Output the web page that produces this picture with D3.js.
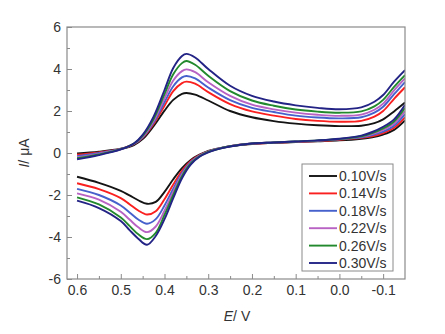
<!DOCTYPE html>
<html>
<head>
<meta charset="utf-8">
<script src="https://cdn.jsdelivr.net/npm/d3@7"></script>
<style>
  body { margin: 0; background: #fff; }
  svg { display: block; font-family: "Liberation Sans", Arial, sans-serif; }
  .tick text { fill: #333; font-size: 14px; }
  .domain { display: none; }
</style>
</head>
<body>
<div id="chart"></div>
<script>
// Cyclic voltammograms at six scan rates

// Scan rates (legend labels) and colours
const scanRates = ['0.10V/s', '0.14V/s', '0.18V/s', '0.22V/s', '0.26V/s', '0.30V/s'];
const colors = ['#141414', '#fa2020', '#4660cc', '#b862c4', '#22892c', '#232386'];

// Forward sweep potentials (V), 0.6 -> -0.15
const forwardE = [0.6, 0.55, 0.5, 0.47, 0.45, 0.425, 0.4, 0.38, 0.36, 0.35, 0.33, 0.3, 0.25, 0.2, 0.15, 0.1, 0.05, 0.0, -0.05, -0.08, -0.1, -0.125, -0.15];
// Forward sweep currents (uA), one row per scan rate
const forwardI = [
  [-0.02, 0.06, 0.2, 0.38, 0.66, 1.28, 2.02, 2.53, 2.82, 2.86, 2.78, 2.5, 2.0, 1.7, 1.52, 1.4, 1.32, 1.28, 1.3, 1.42, 1.6, 1.98, 2.4],
  [-0.08, 0.03, 0.2, 0.42, 0.72, 1.38, 2.25, 2.95, 3.33, 3.4, 3.3, 2.9, 2.33, 1.98, 1.78, 1.62, 1.53, 1.49, 1.53, 1.73, 2.0, 2.58, 3.13],
  [-0.15, 0.0, 0.19, 0.43, 0.75, 1.45, 2.42, 3.18, 3.6, 3.67, 3.55, 3.12, 2.52, 2.15, 1.95, 1.78, 1.69, 1.65, 1.7, 1.92, 2.2, 2.8, 3.38],
  [-0.2, -0.04, 0.18, 0.44, 0.78, 1.52, 2.6, 3.45, 3.9, 3.98, 3.85, 3.37, 2.72, 2.3, 2.08, 1.92, 1.82, 1.77, 1.83, 2.06, 2.35, 2.98, 3.55],
  [-0.25, -0.07, 0.18, 0.45, 0.82, 1.62, 2.8, 3.75, 4.28, 4.38, 4.2, 3.68, 2.95, 2.5, 2.25, 2.07, 1.97, 1.92, 1.98, 2.22, 2.53, 3.15, 3.71],
  [-0.3, -0.1, 0.17, 0.45, 0.86, 1.73, 3.0, 4.05, 4.62, 4.72, 4.55, 4.0, 3.2, 2.72, 2.45, 2.27, 2.15, 2.08, 2.17, 2.44, 2.76, 3.4, 3.95]
];

// Reverse sweep potentials (V), -0.15 -> 0.6
const reverseE = [-0.15, -0.125, -0.1, -0.075, -0.05, 0, 0.05, 0.1, 0.15, 0.2, 0.25, 0.28, 0.3, 0.32, 0.34, 0.36, 0.38, 0.4, 0.42, 0.44, 0.46, 0.48, 0.5, 0.55, 0.6];
const reverseI = [
  [1.55, 1.1, 0.88, 0.75, 0.68, 0.6, 0.56, 0.52, 0.48, 0.43, 0.32, 0.2, 0.1, -0.08, -0.33, -0.72, -1.25, -1.85, -2.33, -2.42, -2.25, -2.02, -1.8, -1.42, -1.13],
  [1.7, 1.2, 0.95, 0.8, 0.72, 0.63, 0.57, 0.53, 0.49, 0.44, 0.33, 0.2, 0.08, -0.1, -0.38, -0.85, -1.5, -2.2, -2.77, -2.93, -2.74, -2.44, -2.15, -1.72, -1.44],
  [1.85, 1.3, 1.02, 0.85, 0.75, 0.65, 0.58, 0.54, 0.5, 0.45, 0.33, 0.2, 0.07, -0.12, -0.43, -0.95, -1.7, -2.5, -3.15, -3.37, -3.17, -2.83, -2.5, -2.0, -1.71],
  [2.0, 1.4, 1.1, 0.9, 0.78, 0.66, 0.59, 0.55, 0.5, 0.45, 0.33, 0.19, 0.06, -0.14, -0.47, -1.02, -1.85, -2.75, -3.5, -3.77, -3.54, -3.17, -2.8, -2.22, -1.92],
  [2.15, 1.5, 1.17, 0.95, 0.8, 0.67, 0.6, 0.55, 0.5, 0.45, 0.32, 0.18, 0.05, -0.16, -0.5, -1.1, -2.0, -2.95, -3.8, -4.1, -3.87, -3.47, -3.07, -2.45, -2.11],
  [2.3, 1.6, 1.25, 1.0, 0.83, 0.68, 0.6, 0.55, 0.5, 0.45, 0.31, 0.17, 0.03, -0.18, -0.55, -1.2, -2.15, -3.15, -3.95, -4.37, -4.08, -3.67, -3.24, -2.62, -2.27]
];

// Axis ticks
const xTicks = [0.6, 0.5, 0.4, 0.3, 0.2, 0.1, 0.0, -0.1];
const xMinorTicks = [0.55, 0.45, 0.35, 0.25, 0.15, 0.05, -0.05];
const yTicks = [-6, -4, -2, 0, 2, 4, 6];
const yMinorTicks = [-5, -3, -1, 1, 3, 5];

const W = 445, H = 334;
const plot = { left: 67, right: 405, top: 27, bottom: 279 };
const frameColor = '#8a8a8a';

const svg = d3.select('#chart').append('svg')
  .attr('width', W)
  .attr('height', H);

const x = d3.scaleLinear().domain([0.623, -0.15]).range([plot.left, plot.right]);
const y = d3.scaleLinear().domain([-6, 6]).range([plot.bottom, plot.top]);

svg.append('defs').append('clipPath').attr('id', 'plot-clip')
  .append('rect')
  .attr('x', plot.left).attr('y', plot.top)
  .attr('width', plot.right - plot.left)
  .attr('height', plot.bottom - plot.top);

// Curves
const line = d3.line()
  .x(d => x(d[0]))
  .y(d => y(d[1]))
  .curve(d3.curveCatmullRom.alpha(0.5));

const curves = svg.append('g').attr('clip-path', 'url(#plot-clip)');
scanRates.forEach((rate, i) => {
  const fwd = forwardE.map((e, j) => [e, forwardI[i][j]]);
  const rev = reverseE.map((e, j) => [e, reverseI[i][j]]);
  [fwd, rev].forEach(pts => {
    curves.append('path')
      .datum(pts)
      .attr('d', line)
      .attr('fill', 'none')
      .attr('stroke', colors[i])
      .attr('stroke-width', 1.9)
      .attr('stroke-linejoin', 'round');
  });
});

// Axes (ticks point inward)
svg.append('g')
  .attr('transform', `translate(0,${plot.bottom})`)
  .call(d3.axisBottom(x).tickValues(xTicks).tickSize(-5).tickPadding(6)
    .tickFormat(d => d.toFixed(1)));
svg.append('g')
  .attr('transform', `translate(0,${plot.bottom})`)
  .call(d3.axisBottom(x).tickValues(xMinorTicks).tickSize(-3).tickFormat(''));

svg.append('g')
  .attr('transform', `translate(${plot.left},0)`)
  .call(d3.axisLeft(y).tickValues(yTicks).tickSize(-5).tickPadding(6)
    .tickFormat(d => String(d)));
svg.append('g')
  .attr('transform', `translate(${plot.left},0)`)
  .call(d3.axisLeft(y).tickValues(yMinorTicks).tickSize(-3).tickFormat(''));

svg.selectAll('.tick line').attr('stroke', frameColor).attr('stroke-width', 1);

// Frame
svg.append('rect')
  .attr('x', plot.left).attr('y', plot.top)
  .attr('width', plot.right - plot.left)
  .attr('height', plot.bottom - plot.top)
  .attr('fill', 'none')
  .attr('stroke', frameColor)
  .attr('stroke-width', 1.2);

// Axis titles
const xTitle = svg.append('text')
  .attr('x', 237).attr('y', 321)
  .attr('text-anchor', 'middle')
  .attr('fill', '#333')
  .style('font-size', '14px');
xTitle.append('tspan').style('font-style', 'italic').text('E');
xTitle.append('tspan').text('/ V');

const yTitle = svg.append('text')
  .attr('transform', 'translate(29,153) rotate(-90)')
  .attr('text-anchor', 'middle')
  .attr('fill', '#333')
  .style('font-size', '14px');
yTitle.append('tspan').style('font-style', 'italic').text('I');
yTitle.append('tspan').text('/ μA');

// Legend
const legend = svg.append('g');
legend.append('rect')
  .attr('x', 302).attr('y', 164)
  .attr('width', 91).attr('height', 107)
  .attr('fill', '#fff')
  .attr('stroke', frameColor)
  .attr('stroke-width', 1);

scanRates.forEach((rate, i) => {
  const cy = 176 + i * 17.4;
  legend.append('line')
    .attr('x1', 309).attr('x2', 337)
    .attr('y1', cy).attr('y2', cy)
    .attr('stroke', colors[i])
    .attr('stroke-width', 1.9);
  legend.append('text')
    .attr('x', 339).attr('y', cy)
    .attr('dy', '0.36em')
    .attr('fill', '#333')
    .style('font-size', '14px')
    .text(rate);
});
</script>
</body>
</html>
